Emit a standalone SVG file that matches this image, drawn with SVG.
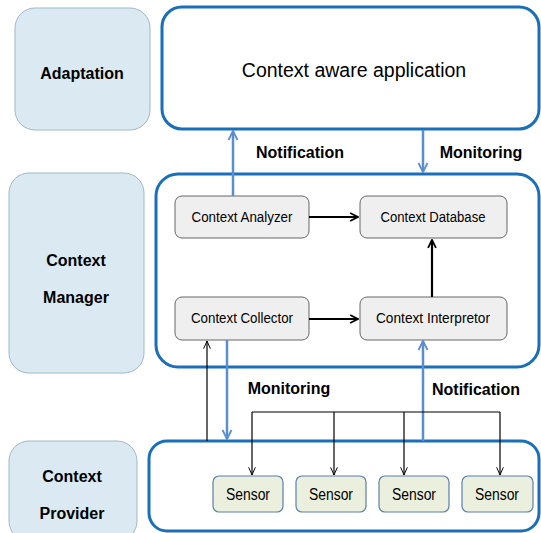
<svg xmlns="http://www.w3.org/2000/svg" width="541" height="533" viewBox="0 0 541 533">
<style>
.side{fill:#dbeaf2;stroke:#9fb8c8;stroke-width:1}
.main{fill:#fff;stroke:#1a6fba;stroke-width:3}
.comp{fill:#efefef;stroke:#666;stroke-width:1}
.sensor{fill:#ebf0de;stroke:#5b7fa8;stroke-width:1.2}
.lbl{font-family:"Liberation Sans",Arial,sans-serif;font-weight:bold;font-size:16px;fill:#000;text-anchor:middle;dominant-baseline:central}
.ct{font-family:"Liberation Sans",Arial,sans-serif;font-size:14px;fill:#000;text-anchor:middle;dominant-baseline:central}
.st{font-family:"Liberation Sans",Arial,sans-serif;font-size:16px;fill:#000;text-anchor:middle;dominant-baseline:central}
.blue{stroke:#5b8ed0;stroke-width:2.5;fill:none}
.blk{stroke:#000;stroke-width:2.2;fill:none}
.thin{stroke:#000;stroke-width:1.2;fill:none}
</style>
<defs>
<marker id="ab" viewBox="0 0 10 10" refX="9" refY="5" markerWidth="4.5" markerHeight="4.5" orient="auto" markerUnits="strokeWidth"><path d="M1,1 L9,5 L1,9" fill="none" stroke="#5b8ed0" stroke-width="1.6"/></marker>
<marker id="ak" viewBox="0 0 10 10" refX="9" refY="5" markerWidth="4.5" markerHeight="4.5" orient="auto" markerUnits="strokeWidth"><path d="M1,1 L9,5 L1,9" fill="none" stroke="#000" stroke-width="1.8"/></marker>
<marker id="at" viewBox="0 0 10 10" refX="9" refY="5" markerWidth="8" markerHeight="8" orient="auto" markerUnits="strokeWidth"><path d="M1,1.5 L9,5 L1,8.5" fill="none" stroke="#000" stroke-width="1"/></marker>
</defs>

<g id="adaptation"><rect class="side" x="15" y="8" width="135" height="122" rx="20"/><text class="lbl" x="82" y="73">Adaptation</text></g>
<g id="context-manager-label"><rect class="side" x="9" y="173" width="135" height="200" rx="20"/><text class="lbl" x="76" y="260">Context</text><text class="lbl" x="76" y="297">Manager</text></g>
<g id="context-provider-label"><rect class="side" x="9" y="441" width="128" height="100" rx="20"/><text class="lbl" x="72" y="476">Context</text><text class="lbl" x="72" y="513">Provider</text></g>

<g id="app"><rect class="main" x="162" y="7" width="377" height="122" rx="20"/><text x="354" y="70" font-family="Liberation Sans,Arial,sans-serif" font-size="19.5" text-anchor="middle" dominant-baseline="central">Context aware application</text></g>
<g id="manager"><rect class="main" x="156" y="174" width="383" height="193" rx="22"/></g>
<g id="provider"><rect class="main" x="149" y="441" width="390" height="90" rx="18"/></g>

<g id="analyzer"><rect class="comp" x="175" y="196" width="134" height="42" rx="7"/><text class="ct" x="242" y="217" textLength="101" lengthAdjust="spacingAndGlyphs">Context Analyzer</text></g>
<g id="database"><rect class="comp" x="360" y="196" width="147" height="42" rx="7"/><text class="ct" x="433" y="217" textLength="105" lengthAdjust="spacingAndGlyphs">Context Database</text></g>
<g id="collector"><rect class="comp" x="175" y="297" width="134" height="43" rx="7"/><text class="ct" x="242" y="318" textLength="102" lengthAdjust="spacingAndGlyphs">Context Collector</text></g>
<g id="interpretor"><rect class="comp" x="360" y="297" width="147" height="43" rx="7"/><text class="ct" x="433" y="318" textLength="114" lengthAdjust="spacingAndGlyphs">Context Interpretor</text></g>

<g id="sensor1"><rect class="sensor" x="213" y="476" width="70" height="36" rx="6"/><text class="st" x="248" y="494" textLength="44" lengthAdjust="spacingAndGlyphs">Sensor</text></g>
<g id="sensor2"><rect class="sensor" x="296" y="476" width="70" height="36" rx="6"/><text class="st" x="331" y="494" textLength="44" lengthAdjust="spacingAndGlyphs">Sensor</text></g>
<g id="sensor3"><rect class="sensor" x="379" y="476" width="70" height="36" rx="6"/><text class="st" x="414" y="494" textLength="44" lengthAdjust="spacingAndGlyphs">Sensor</text></g>
<g id="sensor4"><rect class="sensor" x="462" y="476" width="71" height="36" rx="6"/><text class="st" x="497" y="494" textLength="44" lengthAdjust="spacingAndGlyphs">Sensor</text></g>

<g id="connectors">
<line class="blue" x1="233" y1="196" x2="233" y2="131" marker-end="url(#ab)"/>
<line class="blue" x1="423" y1="130" x2="423" y2="172" marker-end="url(#ab)"/>
<line class="blk" x1="309" y1="217" x2="358" y2="217" marker-end="url(#ak)"/>
<line class="blk" x1="309" y1="319" x2="358" y2="319" marker-end="url(#ak)"/>
<line class="blk" x1="432" y1="297" x2="432" y2="240" marker-end="url(#ak)"/>
<line class="thin" x1="207" y1="441" x2="207" y2="341" marker-end="url(#at)"/>
<line class="blue" x1="227" y1="340" x2="227" y2="439" marker-end="url(#ab)"/>
<line class="blue" x1="423" y1="441" x2="423" y2="341" marker-end="url(#ab)"/>
<path class="thin" d="M252,412 H500"/>
<line class="thin" x1="252" y1="412" x2="252" y2="475" marker-end="url(#at)"/>
<line class="thin" x1="334" y1="412" x2="334" y2="475" marker-end="url(#at)"/>
<line class="thin" x1="404" y1="412" x2="404" y2="475" marker-end="url(#at)"/>
<line class="thin" x1="500" y1="412" x2="500" y2="475" marker-end="url(#at)"/>
</g>

<text class="lbl" x="300" y="152">Notification</text>
<text class="lbl" x="481" y="152">Monitoring</text>
<text class="lbl" x="289" y="388">Monitoring</text>
<text class="lbl" x="476" y="389">Notification</text>
</svg>
